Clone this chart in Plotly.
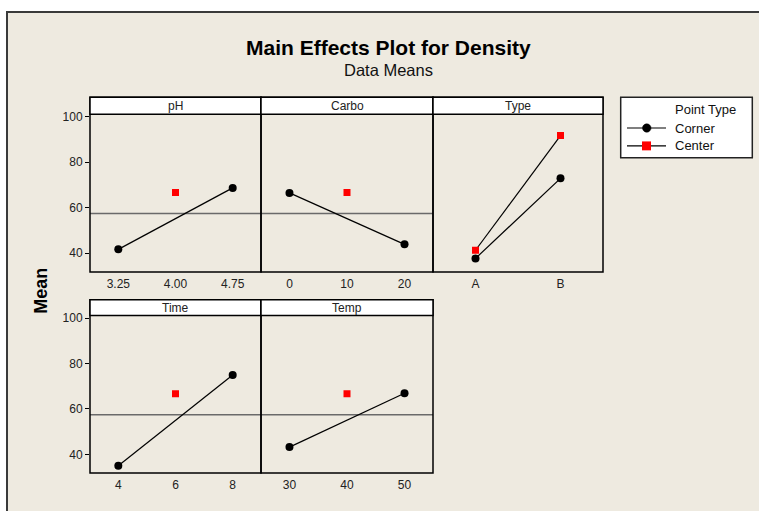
import plotly.graph_objects as go

# ---- data ----
factor_names = ["pH", "Carbo", "Type", "Time", "Temp"]
ph_levels = [3.25, 4.75]
ph_corner = [41.7, 68.7]
ph_center_level = [4.00]
carbo_levels = [0, 20]
carbo_corner = [66.5, 43.9]
carbo_center_level = [10]
type_levels = ["A", "B"]
type_corner = [37.7, 72.9]
type_center = [41.3, 91.7]
time_levels = [4, 8]
time_corner = [35.0, 74.9]
time_center_level = [6]
temp_levels = [30, 50]
temp_corner = [43.2, 66.9]
temp_center_level = [40]
center_mean = [66.7]
overall_mean = 57.4
y_ticks = [40, 60, 80, 100]

W, H = 759, 511
def px(x): return x / W
def py(y): return 1 - y / H

cols = [(90, 261), (261, 433), (433, 603)]
top_row = (111, 270)
bot_row = (314, 472.7)
hdr_top = (94, 111)
hdr_bot = (298, 314)

panels = [
    dict(name="pH", col=0, row=0, xc=ph_levels, yc=ph_corner, xm=ph_center_level, ym=center_mean,
         rng=[3.25 - 0.371, 4.75 + 0.371], ticks=[3.25, 4.00, 4.75], ticktext=["3.25", "4.00", "4.75"]),
    dict(name="Carbo", col=1, row=0, xc=carbo_levels, yc=carbo_corner, xm=carbo_center_level, ym=center_mean,
         rng=[-4.95, 24.95], ticks=[0, 10, 20], ticktext=["0", "10", "20"]),
    dict(name="Type", col=2, row=0, xc=type_levels, yc=type_corner, xm=type_levels, ym=type_center,
         rng=[-0.5, 1.5], ticks=None, ticktext=None),
    dict(name="Time", col=0, row=1, xc=time_levels, yc=time_corner, xm=time_center_level, ym=center_mean,
         rng=[4 - 0.99, 8 + 0.99], ticks=[4, 6, 8], ticktext=["4", "6", "8"]),
    dict(name="Temp", col=1, row=1, xc=temp_levels, yc=temp_corner, xm=temp_center_level, ym=center_mean,
         rng=[30 - 4.95, 50 + 4.95], ticks=[30, 40, 50], ticktext=["30", "40", "50"]),
]

fig = go.Figure()
FONT = "Liberation Sans"
TXT = "#222222"
shapes = []
annotations = []

# background frame
shapes.append(dict(type="rect", xref="paper", yref="paper", x0=px(7), x1=px(770), y0=py(520), y1=py(8),
                   fillcolor="#EEEAE0", line=dict(color="#3a3a3a", width=2), layer="below"))

layout_axes = {}
for i, p in enumerate(panels, start=1):
    xa = "x" if i == 1 else f"x{i}"
    ya = "y" if i == 1 else f"y{i}"
    x0, x1 = cols[p["col"]]
    r0, r1 = top_row if p["row"] == 0 else bot_row
    h0, h1 = hdr_top if p["row"] == 0 else hdr_bot

    # reference line (overall mean)
    fig.add_trace(go.Scatter(x=p["rng"], y=[overall_mean, overall_mean], mode="lines",
                             line=dict(color="#6a6a6a", width=1.5), xaxis=xa, yaxis=ya,
                             showlegend=False, hoverinfo="skip", cliponaxis=True))
    fig.add_trace(go.Scatter(x=p["xc"], y=p["yc"], mode="lines+markers", name="Corner",
                             line=dict(color="black", width=1.2),
                             marker=dict(symbol="circle", size=8, color="black"),
                             xaxis=xa, yaxis=ya, showlegend=False))
    fig.add_trace(go.Scatter(x=p["xm"], y=p["ym"], mode="lines+markers", name="Center",
                             line=dict(color="black", width=1.2),
                             marker=dict(symbol="square", size=7, color="#FF0000"),
                             xaxis=xa, yaxis=ya, showlegend=False))

    xkey = "xaxis" if i == 1 else f"xaxis{i}"
    ykey = "yaxis" if i == 1 else f"yaxis{i}"
    xdict = dict(domain=[px(x0), px(x1)], range=p["rng"], anchor=ya, showgrid=False, zeroline=False,
                 showline=False, ticks="outside", ticklen=1, tickcolor="rgba(0,0,0,0)",
                 tickfont=dict(family=FONT, size=12, color=TXT))
    if p["ticks"] is not None:
        xdict.update(tickmode="array", tickvals=p["ticks"], ticktext=p["ticktext"])
    else:
        xdict.update(type="category", categoryorder="array", categoryarray=type_levels)
    layout_axes[xkey] = xdict
    ydict = dict(domain=[py(r1), py(r0)], range=[31.8, 101.1], anchor=xa, showgrid=False, zeroline=False,
                 showline=False, tickmode="array", tickvals=y_ticks,
                 tickfont=dict(family=FONT, size=12, color=TXT))
    if p["col"] == 0:
        ydict.update(ticks="outside", ticklen=4, tickcolor="black", tickwidth=1, showticklabels=True)
    else:
        ydict.update(ticks="", showticklabels=False)
    layout_axes[ykey] = ydict

    # panel border
    shapes.append(dict(type="rect", xref="paper", yref="paper", x0=px(x0), x1=px(x1), y0=py(r1), y1=py(h0),
                       fillcolor="rgba(0,0,0,0)", line=dict(color="black", width=1.5), layer="above"))
    # header strip
    shapes.append(dict(type="rect", xref="paper", yref="paper", x0=px(x0), x1=px(x1), y0=py(h1), y1=py(h0),
                       fillcolor="white", line=dict(color="black", width=1.5), layer="above"))
    annotations.append(dict(x=px((x0 + x1) / 2), y=py((h0 + h1) / 2 + 0.5), xref="paper", yref="paper",
                            text=p["name"], showarrow=False, xanchor="center", yanchor="middle",
                            font=dict(family=FONT, size=12, color=TXT)))

# legend (drawn manually as a boxed key)
lg = dict(x0=620.7, x1=752.3, y0=94, y1=155)
shapes.append(dict(type="rect", xref="paper", yref="paper", x0=px(lg["x0"]), x1=px(lg["x1"]),
                   y0=py(lg["y1"]), y1=py(lg["y0"]), fillcolor="white", line=dict(color="#222222", width=1.5)))
for yy in (125, 143):
    shapes.append(dict(type="line", xref="paper", yref="paper", x0=px(627), x1=px(666), y0=py(yy), y1=py(yy),
                       line=dict(color="black", width=1.2)))
shapes.append(dict(type="circle", xref="paper", yref="paper", x0=px(642.5), x1=px(651), y0=py(129.2), y1=py(120.8),
                   fillcolor="black", line=dict(color="black", width=0.5)))
shapes.append(dict(type="rect", xref="paper", yref="paper", x0=px(642), x1=px(651), y0=py(147.5), y1=py(138.5),
                   fillcolor="#FF0000", line=dict(color="#FF0000", width=0)))
annotations += [
    dict(x=px(673), y=py(106), xref="paper", yref="paper", text="Point Type", showarrow=False,
         xanchor="left", yanchor="middle", font=dict(family=FONT, size=13, color="#111111")),
    dict(x=px(673), y=py(125), xref="paper", yref="paper", text="Corner", showarrow=False,
         xanchor="left", yanchor="middle", font=dict(family=FONT, size=13, color="#111111")),
    dict(x=px(673), y=py(143), xref="paper", yref="paper", text="Center", showarrow=False,
         xanchor="left", yanchor="middle", font=dict(family=FONT, size=13, color="#111111")),
]

annotations += [
    dict(x=px(388), y=py(44), xref="paper", yref="paper", text="<b>Main Effects Plot for Density</b>",
         showarrow=False, xanchor="center", yanchor="middle", font=dict(family=FONT, size=21, color="black")),
    dict(x=px(388), y=py(67), xref="paper", yref="paper", text="Data Means",
         showarrow=False, xanchor="center", yanchor="middle", font=dict(family=FONT, size=16.5, color="#111111")),
    dict(x=px(41), y=py(289), xref="paper", yref="paper", text="<b>Mean</b>", textangle=-90,
         showarrow=False, xanchor="center", yanchor="middle", font=dict(family=FONT, size=18, color="black")),
]

fig.update_layout(
    width=W, height=H, margin=dict(l=0, r=0, t=0, b=0),
    paper_bgcolor="white", plot_bgcolor="white",
    shapes=shapes, annotations=annotations,
    showlegend=False,
    **layout_axes,
)

fig.write_html("out.html")
